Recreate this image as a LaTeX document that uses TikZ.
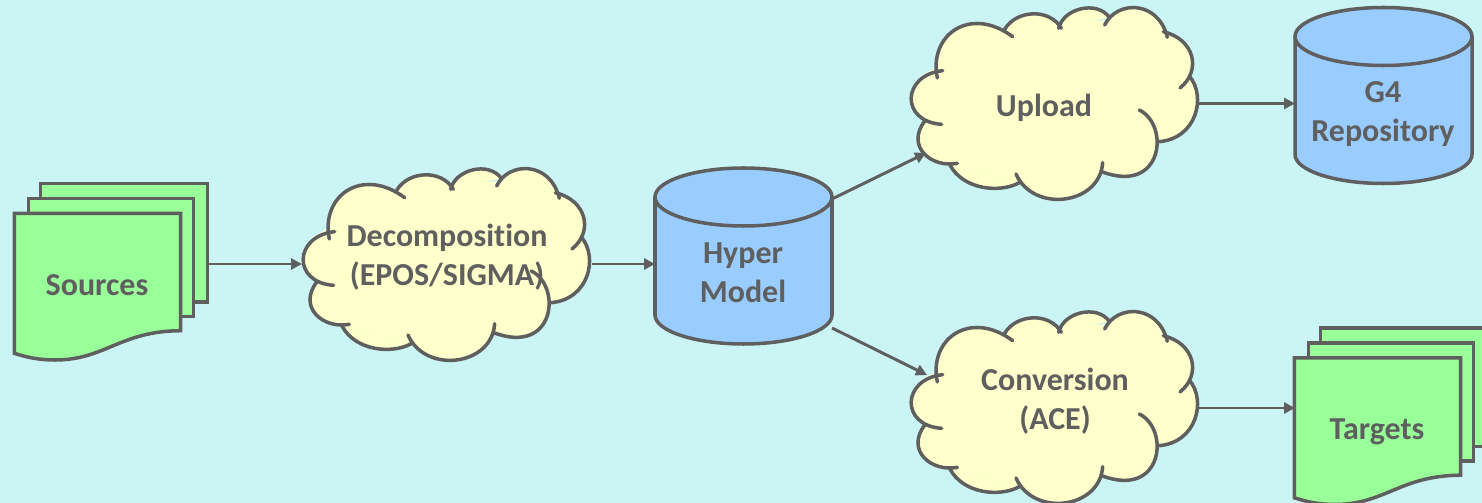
\documentclass[tikz,border=0pt]{standalone}
\usepackage{fontspec}
\setmainfont[Ligatures=NoCommon]{Carlito}
\usetikzlibrary{calc}
\usetikzlibrary{arrows.meta}
\definecolor{backcol}{HTML}{CBF5F5}
\definecolor{inkcol}{HTML}{5F5F5F}
\definecolor{greencol}{HTML}{99FF99}
\definecolor{cloudcol}{HTML}{FFFFCC}
\definecolor{drumcol}{HTML}{99CCFF}
\tikzset{
  outline/.style={draw=inkcol,line width=2pt},
  flow/.style={draw=inkcol,line width=1.7pt,-{Triangle[length=2.2mm,width=2.2mm]}},
  caption/.style={text=inkcol,inner sep=0pt,align=center,font=\fontsize{18.2}{22}\selectfont\bfseries}}
% three sheets, the wave is on the front one
\newcommand{\docstack}[2]{
  \begin{scope}[shift={(#1,#2)}]
    \filldraw[outline,fill=greencol] (40.7,183.3) rectangle (207.3,302);
    \filldraw[outline,fill=greencol] (28.3,198.7) rectangle (193.3,316.7);
    \filldraw[outline,fill=greencol] (14.3,353.3) -- (14.3,213.3) -- (180.7,213.3) -- (180.7,330.7)
      .. controls (120,331) and (105,360) .. (55,360) .. controls (38,360) and (26,357) .. (14.3,353.3) -- cycle;
  \end{scope}}
\newcommand{\drumshape}[2]{
  \begin{scope}[shift={(#1,#2)}]
    \filldraw[outline,fill=drumcol] (0,29) -- (0,147) .. controls (0,163) and (40,176) .. (88.5,176)
      .. controls (137,176) and (177,163) .. (177,147) -- (177,29);
    \filldraw[outline,fill=drumcol] (88.5,29) ellipse [x radius=88.5,y radius=29];
  \end{scope}}
% the lobes of a cloud, in a grid three times finer
\newcommand{\cloudlobes}{
  \lobe{(112,234)}{(85,105)}{(210,15)}{(338,110)}
  \lobe{(314,88)}{(350,28)}{(450,25)}{(484,85)}
  \lobe{(476,85)}{(490,25)}{(590,0)}{(628,52)}
  \lobe{(614,75)}{(650,0)}{(775,0)}{(802,112)}
  \lobe{(790,95)}{(885,118)}{(905,212)}{(840,264)}
  \lobe{(868,228)}{(920,290)}{(890,415)}{(778,425)}
  \lobe{(718,330)}{(810,375)}{(790,585)}{(605,515)}
  \lobe{(608,488)}{(600,615)}{(400,640)}{(348,522)}
  \lobe{(358,548)}{(300,580)}{(190,570)}{(150,495)}
  \lobe{(172,490)}{(95,505)}{(15,440)}{(75,362)}
  \lobe{(125,373)}{(0,365)}{(5,225)}{(128,212)}}
\newcommand{\cloudshape}[2]{
  \begin{scope}[shift={(#1,#2)},x=0.02cm/3,y=-0.02cm/3]
    \fill[cloudcol] (112,200) -- (314,88) -- (478,70) -- (620,60) -- (795,100) -- (868,228) -- (890,300)
      -- (778,425) -- (605,515) -- (358,548) -- (150,495) -- (75,362) -- (60,230) -- cycle;
    \def\lobe##1##2##3##4{\fill[cloudcol] ##1 .. controls ##2 and ##3 .. ##4 -- cycle;}
    \cloudlobes
    \def\lobe##1##2##3##4{\draw[outline,line cap=round] ##1 .. controls ##2 and ##3 .. ##4;}
    \cloudlobes
  \end{scope}}
\begin{document}
\begin{tikzpicture}[x=0.02cm,y=-0.02cm]
  \path[use as bounding box,fill=backcol] (0,0) rectangle (1482,503);

  \docstack{0}{0}
  \docstack{1280}{144.5}
  \cloudshape{292}{161}
  \cloudshape{900}{0}
  \cloudshape{900}{304}
  \drumshape{655}{168}
  \drumshape{1295}{7.5}

  \node[caption] (sources) at (97,285) {Sources};
  \node[caption] (decomp) at (447,257) {Decomposition\\(EPOS/SIGMA)};
  \node[caption] (hyper) at (743,273) {Hyper\\Model};
  \node[caption] (upload) at (1044,107.5) {Upload};
  \node[caption] (conv) at (1055,401) {Conversion\\(ACE)};
  \node[caption] (repo) at (1383,114) {G4\\Repository};
  \node[caption] (targets) at (1377,432) {Targets};

  \draw[flow] ($(sources)+(110,-21)$) -- ($(decomp)+(-145,7)$);
  \draw[flow] ($(decomp)+(145,7)$) -- ($(hyper)+(-88,-9)$);
  \draw[flow] ($(hyper)+(89,-74)$) -- ($(upload)+(-118,45.5)$);
  \draw[flow] ($(hyper)+(89,55)$) -- ($(conv)+(-128,-26)$);
  \draw[flow] ($(upload)+(155,-4)$) -- ($(repo)+(-88,-10.5)$);
  \draw[flow] ($(conv)+(144,7)$) -- ($(targets)+(-82,-24)$);
\end{tikzpicture}
\end{document}
